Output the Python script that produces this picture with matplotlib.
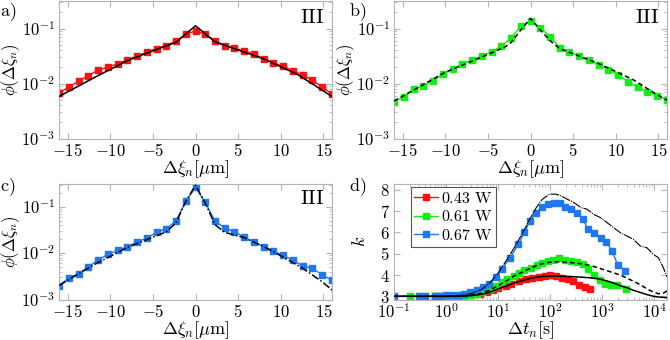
import numpy as np
import matplotlib
matplotlib.use("Agg")
import matplotlib.pyplot as plt
from matplotlib.ticker import LogLocator, NullFormatter, FixedLocator

plt.rcParams["mathtext.fontset"] = "cm"
plt.rcParams["font.family"] = "serif"
plt.rcParams["font.serif"] = ["DejaVu Serif"]

# ---- panel a-c : displacement distributions ----
xi = [-16, -14.86, -13.71, -12.57, -11.43, -10.29, -9.14, -8, -6.86, -5.71,
      -4.57, -3.43, -2.29, -1.14, 0, 1.14, 2.29, 3.43, 4.57, 5.71, 6.86, 8,
      9.14, 10.29, 11.43, 12.57, 13.71, 14.86, 16]

phi_a = [0.0067, 0.0086, 0.0111, 0.0139, 0.0175, 0.0198, 0.0228, 0.027, 0.0315,
         0.0373, 0.043, 0.049, 0.0586, 0.0787, 0.0906, 0.0787, 0.060, 0.049,
         0.044, 0.039, 0.0347, 0.028, 0.024, 0.0204, 0.0172, 0.0143, 0.0114,
         0.0086, 0.0064]
phi_b = [0.0047, 0.0058, 0.0079, 0.0091, 0.0113, 0.0147, 0.0184, 0.0228, 0.0266,
         0.0316, 0.0379, 0.0474, 0.0674, 0.109, 0.136, 0.104, 0.071, 0.0448,
         0.0378, 0.0316, 0.0263, 0.0219, 0.0179, 0.0143, 0.0108, 0.0086, 0.0071,
         0.0060, 0.0050]
phi_c = [0.0020, 0.0029, 0.0036, 0.0050, 0.0071, 0.0094, 0.0114, 0.0138, 0.0173,
         0.0211, 0.0278, 0.0338, 0.049, 0.13, 0.26, 0.124, 0.049, 0.0348, 0.029,
         0.0221, 0.017, 0.0138, 0.011, 0.0089, 0.0070, 0.0053, 0.0047, 0.0034,
         0.0026]

fit_a_x = [-16, -12, -8, -4, -2.3, 0, 2.3, 4, 8, 12, 16]
fit_a_y = [0.0058, 0.0125, 0.026, 0.045, 0.056, 0.112, 0.057, 0.046, 0.028, 0.0145, 0.0058]
fit_b_x = [-16, -14.86, -10, -6, -3, -2.3, -1, 0, 1, 2.3, 3.43, 8, 12, 14.86, 16]
fit_b_y = [0.0048, 0.006, 0.016, 0.029, 0.046, 0.055, 0.10, 0.152, 0.10, 0.06, 0.043,
           0.023, 0.0118, 0.0062, 0.005]
fit_c_x = [-16, -12, -8, -3.43, -2.29, -1.14, 0, 1.14, 2.29, 3.43, 5.71, 8, 10.29,
           12.57, 14.86, 16]
fit_c_y = [0.002, 0.0055, 0.0132, 0.0287, 0.045, 0.13, 0.29, 0.12, 0.041, 0.028,
           0.0215, 0.0138, 0.0082, 0.0047, 0.0024, 0.0016]

# ---- panel d : kurtosis ----
t_red = [0.6, 0.8, 1.0, 1.3, 1.7, 2.2, 3.0, 4.5, 6, 8, 10, 14, 18, 25, 35, 45, 60,
         80, 100, 130, 170, 220, 280, 360, 460, 580]
k_red = [3.0, 3.0, 3.0, 3.0, 3.0, 3.01, 3.05, 3.1, 3.2, 3.3, 3.4, 3.5, 3.6, 3.7,
         3.8, 3.87, 3.92, 3.97, 3.98, 3.95, 3.88, 3.8, 3.7, 3.55, 3.45, 3.35]
t_green = [0.2, 0.3, 0.4, 0.6, 0.8, 1.0, 1.3, 1.7, 2.2, 3.0, 4, 5, 7, 9, 12, 15,
           20, 25, 32, 42, 55, 70, 90, 115, 150, 190, 250, 320, 420, 540, 700,
           900, 1150, 1500, 1900, 2900]
k_green = [3.0, 3.0, 3.0, 3.0, 3.0, 3.0, 3.0, 3.01, 3.02, 3.05, 3.1, 3.2, 3.35, 3.5,
           3.65, 3.8, 3.95, 4.1, 4.25, 4.35, 4.45, 4.55, 4.65, 4.72, 4.78, 4.72,
           4.65, 4.6, 4.5, 4.3, 4.0, 3.75, 3.6, 3.55, 3.55, 3.33]
t_blue = [0.1, 0.3, 0.4, 0.6, 0.8, 1.0, 1.3, 1.7, 2.2, 2.9, 4.0, 5.2, 6.6, 9.1,
          11.9, 17, 24.5, 32, 40.6, 54, 70, 91, 118, 151, 195, 253, 328, 420, 537,
          695, 930, 1200, 1550, 2000, 2700]
k_blue = [3.0, 3.0, 3.0, 3.0, 3.02, 3.04, 3.06, 3.08, 3.12, 3.2, 3.3, 3.42, 3.58,
          3.9, 4.29, 4.81, 5.45, 6.0, 6.54, 6.93, 7.21, 7.33, 7.40, 7.37, 7.21,
          7.09, 6.93, 6.62, 6.15, 5.96, 5.75, 5.55, 5.12, 4.45, 4.21]

t_fit = [0.1, 0.5, 1, 2, 3, 5, 7, 10, 15, 20, 30, 40, 55, 70, 97, 129, 161, 213,
         287, 388, 512, 690, 930, 1240, 1660, 2240, 3000, 4000, 5370, 7200, 9600,
         12000, 14900, 17400, 20000]
k_fit_067 = [3.0, 3.0, 3.01, 3.05, 3.12, 3.35, 3.65, 4.1, 4.75, 5.25, 6.0, 6.6,
             7.2, 7.55, 7.8, 7.8, 7.72, 7.56, 7.4, 7.17, 7.09, 6.85, 6.69, 6.46,
             6.22, 5.98, 5.83, 5.67, 5.36, 5.28, 4.97, 4.81, 4.34, 3.94, 3.6]
k_fit_061 = [3.0, 3.0, 3.0, 3.02, 3.05, 3.15, 3.3, 3.5, 3.75, 3.95, 4.15, 4.3,
             4.45, 4.53, 4.6, 4.62, 4.62, 4.6, 4.57, 4.53, 4.48, 4.4, 4.3, 4.2,
             4.1, 4.0, 3.85, 3.7, 3.55, 3.35, 3.2, 3.12, 3.15, 3.25, 3.32]
k_fit_043 = [3.0, 3.0, 3.0, 3.01, 3.03, 3.1, 3.2, 3.35, 3.5, 3.62, 3.75, 3.83,
             3.9, 3.93, 3.95, 3.95, 3.94, 3.93, 3.92, 3.9, 3.88, 3.85, 3.8, 3.72,
             3.62, 3.5, 3.4, 3.28, 3.18, 3.08, 3.0, 2.97, 2.95, 2.93, 2.92]

RED = "#ff1010"
GREEN = "#11ee11"
BLUE = "#1f78f0"
SPINE = "#b4b4b4"

fig = plt.figure(figsize=(6.7, 3.4), dpi=100)
W = 273 / 670
ax_a = fig.add_axes([59 / 670, 1 - 138.5 / 340, W, 137.5 / 340])
ax_b = fig.add_axes([394 / 670, 1 - 138.5 / 340, W, 137.5 / 340])
ax_c = fig.add_axes([59 / 670, 1 - 299.5 / 340, W, 116 / 340])
ax_d = fig.add_axes([394 / 670, 1 - 299.5 / 340, W, 116 / 340])


def style(ax):
    for s in ax.spines.values():
        s.set_color(SPINE)
        s.set_linewidth(0.8)
    ax.tick_params(which="both", direction="in", top=True, right=True,
                   color=SPINE, labelsize=12, pad=3)
    ax.tick_params(which="major", length=4)
    ax.tick_params(which="minor", length=2)


def phi_panel(ax, y, col, fx, fy, ls):
    ax.plot(fx, fy, color="k", ls=ls, lw=1.1, zorder=3)
    ax.plot(xi, y, color=col, marker="s", ms=5, lw=1.0, zorder=2)
    ax.set_yscale("log")
    ax.set_xlim(-16, 16)
    ax.set_ylim(1e-3, 10 ** -0.5)
    ax.set_xticks([-15, -10, -5, 0, 5, 10, 15])
    ax.set_xticklabels([r"$\mathrm{-15}$", r"$\mathrm{-10}$", r"$\mathrm{-5}$", r"$0$",
                        r"$5$", r"$10$", r"$15$"])
    ax.yaxis.set_major_locator(FixedLocator([1e-3, 1e-2, 1e-1]))
    ax.yaxis.set_minor_locator(LogLocator(base=10, subs=np.arange(2, 10)))
    ax.yaxis.set_minor_formatter(NullFormatter())
    ax.set_yticklabels([r"$10^{-3}$", r"$10^{-2}$", r"$10^{-1}$"])
    ax.set_xlabel(r"$\Delta\xi_n[\mu\mathrm{m}]$", fontsize=13, labelpad=-1)
    ax.set_ylabel(r"$\phi(\Delta\xi_n)$", fontsize=12)
    ax.yaxis.set_label_coords(-0.135, 0.5)
    ax.text(0.97, 0.95, r"$\mathrm{III}$", transform=ax.transAxes, ha="right",
            va="top", fontsize=15)
    style(ax)


phi_panel(ax_a, phi_a, RED, fit_a_x, fit_a_y, "-")
phi_panel(ax_b, phi_b, GREEN, fit_b_x, fit_b_y, (0, (3, 2)))
phi_panel(ax_c, phi_c, BLUE, fit_c_x, fit_c_y, (0, (5, 1.5, 1, 1.5)))

ax_d.plot(t_fit, k_fit_067, color="k", lw=0.8, ls=(0, (8, 1, 1, 1)), zorder=3)
ax_d.plot(t_fit, k_fit_061, color="k", lw=1.1, ls=(0, (3, 2)), zorder=3)
ax_d.plot(t_fit, k_fit_043, color="k", lw=1.1, zorder=3)
ax_d.plot(t_red, k_red, color=RED, marker="s", ms=4.5, lw=1.0, label=r"$\mathrm{0.43\ W}$")
ax_d.plot(t_green, k_green, color=GREEN, marker="s", ms=4.5, lw=1.0, label=r"$\mathrm{0.61\ W}$")
ax_d.plot(t_blue, k_blue, color=BLUE, marker="s", ms=4.5, lw=1.0, label=r"$\mathrm{0.67\ W}$")
ax_d.set_xscale("log")
ax_d.set_xlim(0.1, 1.75e4)
ax_d.set_ylim(2.85, 8.3)
ax_d.set_yticks([3, 4, 5, 6, 7, 8])
ax_d.set_yticklabels([r"$%d$" % v for v in [3, 4, 5, 6, 7, 8]])
ax_d.xaxis.set_major_locator(FixedLocator([0.1, 1, 10, 100, 1000, 10000]))
ax_d.set_xticklabels([r"$10^{-1}$", r"$10^{0}$", r"$10^{1}$", r"$10^{2}$",
                      r"$10^{3}$", r"$10^{4}$"])
ax_d.xaxis.set_minor_locator(LogLocator(base=10, subs=np.arange(2, 10)))
ax_d.xaxis.set_minor_formatter(NullFormatter())
ax_d.set_xlabel(r"$\Delta t_n[\mathrm{s}]$", fontsize=13, labelpad=-2)
ax_d.set_ylabel(r"$k$", fontsize=13)
ax_d.yaxis.set_label_coords(-0.09, 0.5)
style(ax_d)
leg = ax_d.legend(loc="upper left", bbox_to_anchor=(0.05, 1.0), fontsize=11.5,
                  handlelength=1.5, handletextpad=0.2, borderpad=0.2,
                  labelspacing=0.1, borderaxespad=0.2, fancybox=False, framealpha=1)
leg.get_frame().set_edgecolor("#555555")
leg.get_frame().set_linewidth(0.8)

fig.text(0 / 670, 1 - 12 / 340, r"$\mathrm{a)}$", fontsize=13, va="center")
fig.text(349 / 670, 1 - 12 / 340, r"$\mathrm{b)}$", fontsize=13, va="center")
fig.text(0 / 670, 1 - 187 / 340, r"$\mathrm{c)}$", fontsize=13, va="center")
fig.text(349 / 670, 1 - 187 / 340, r"$\mathrm{d)}$", fontsize=13, va="center")

fig.savefig("out.png", dpi=100)
